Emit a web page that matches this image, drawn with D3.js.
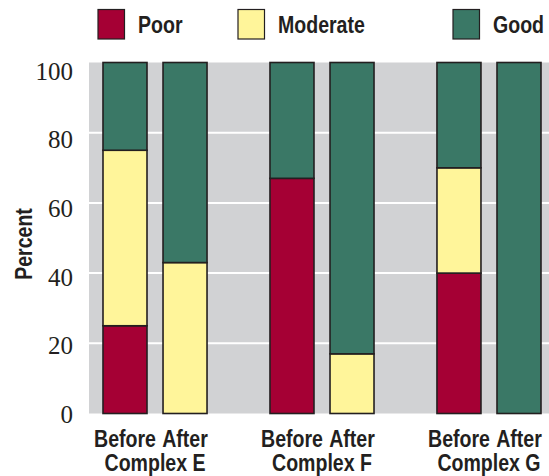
<!DOCTYPE html>
<html>
<head>
<meta charset="utf-8">
<script src="https://cdn.jsdelivr.net/npm/d3@7"></script>
<style>
  html, body { margin: 0; padding: 0; background: #ffffff; }
  svg { display: block; }
</style>
</head>
<body>
<svg id="chart" width="549" height="476"></svg>
<script>
// Stacked condition shares per complex, before and after
const complexes = ["Complex E", "Complex F", "Complex G"];
const periods = ["Before", "After"];
const conditions = ["Poor", "Moderate", "Good"];

// Values in percent, order: E before, E after, F before, F after, G before, G after
const poorValues = [25, 0, 67, 0, 40, 0];
const moderateValues = [50, 43, 0, 17, 30, 0];
const goodValues = [25, 57, 33, 83, 30, 100];

const yTicks = [0, 20, 40, 60, 80, 100];
const gridTicks = [20, 40, 60, 80];

const colors = { Poor: "#a50034", Moderate: "#fff59a", Good: "#3a7866" };
const ink = "#231f20";
const panel = "#d1d2d4";

const plot = { left: 89, right: 549, top: 62.5, bottom: 413.5 };
const condense = 0.85;

const svg = d3.select("#chart");

// rows for the stack
const rows = [];
complexes.forEach((c, i) => {
  periods.forEach((p, j) => {
    const k = i * periods.length + j;
    rows.push({ complex: c, period: p, Poor: poorValues[k], Moderate: moderateValues[k], Good: goodValues[k] });
  });
});

const y = d3.scaleLinear().domain([0, 100]).range([plot.bottom, plot.top]);
// tick labels sit a little lower than their gridlines
const yLabel = d3.scaleLinear().domain([0, 100]).range([414.5, 71]);

const xOuter = d3.scaleBand().domain(complexes).range([103, 541]).paddingInner(0.377).paddingOuter(0);
const xInner = d3.scaleBand().domain(periods).range([0, xOuter.bandwidth()]).paddingInner(0.267).paddingOuter(0);

// panel background
svg.append("rect")
  .attr("x", plot.left).attr("y", plot.top)
  .attr("width", plot.right - plot.left).attr("height", plot.bottom - plot.top)
  .attr("fill", panel);

// gridlines
svg.append("g").selectAll("line").data(gridTicks).join("line")
  .attr("x1", plot.left).attr("x2", plot.right)
  .attr("y1", d => y(d)).attr("y2", d => y(d))
  .attr("stroke", "#ffffff").attr("stroke-width", 2);

// stacked bars
const series = d3.stack().keys(conditions)(rows);
const barG = svg.append("g");
series.forEach(s => {
  barG.append("g").attr("fill", colors[s.key])
    .selectAll("rect")
    .data(s.filter(d => d[1] - d[0] > 0))
    .join("rect")
    .attr("x", d => xOuter(d.data.complex) + xInner(d.data.period))
    .attr("width", xInner.bandwidth())
    .attr("y", d => y(d[1]))
    .attr("height", d => y(d[0]) - y(d[1]))
    .attr("stroke", ink)
    .attr("stroke-width", 1.6);
});

// y axis labels
const yAxis = d3.axisLeft(yLabel).tickValues(yTicks).tickSize(0).tickPadding(16);
const yAxisG = svg.append("g").attr("transform", `translate(${plot.left},0)`).call(yAxis);
yAxisG.select(".domain").remove();
yAxisG.selectAll("text")
  .attr("font-family", "'Liberation Serif', 'Times New Roman', serif")
  .attr("font-size", 25)
  .attr("fill", ink);

// condensed bold sans text helper
function label(parent, x, yPos, text, anchor, rotate) {
  const g = parent.append("g")
    .attr("transform", `translate(${x},${yPos})` + (rotate ? ` rotate(${rotate})` : "") + ` scale(${condense},1)`);
  g.append("text")
    .attr("text-anchor", anchor)
    .attr("font-family", "'Liberation Sans', Arial, sans-serif")
    .attr("font-weight", "bold")
    .attr("font-size", 23)
    .attr("fill", ink)
    .text(text);
  return g;
}

// y title
label(svg, 32, 244, "Percent", "middle", -90);

// x labels
const xLabels = svg.append("g");
rows.forEach(r => {
  label(xLabels, xOuter(r.complex) + xInner(r.period) + xInner.bandwidth() / 2, 447, r.period, "middle");
});
complexes.forEach(c => {
  label(xLabels, xOuter(c) + xOuter.bandwidth() / 2, 471, c, "middle");
});

// legend
const legendX = [98, 238, 453];
const legend = svg.append("g");
conditions.forEach((c, i) => {
  legend.append("rect")
    .attr("x", legendX[i]).attr("y", 9.5)
    .attr("width", 26.5).attr("height", 29.5)
    .attr("fill", colors[c])
    .attr("stroke", ink).attr("stroke-width", 1.2);
  label(legend, legendX[i] + 40, 33, c, "start");
});
</script>
</body>
</html>
